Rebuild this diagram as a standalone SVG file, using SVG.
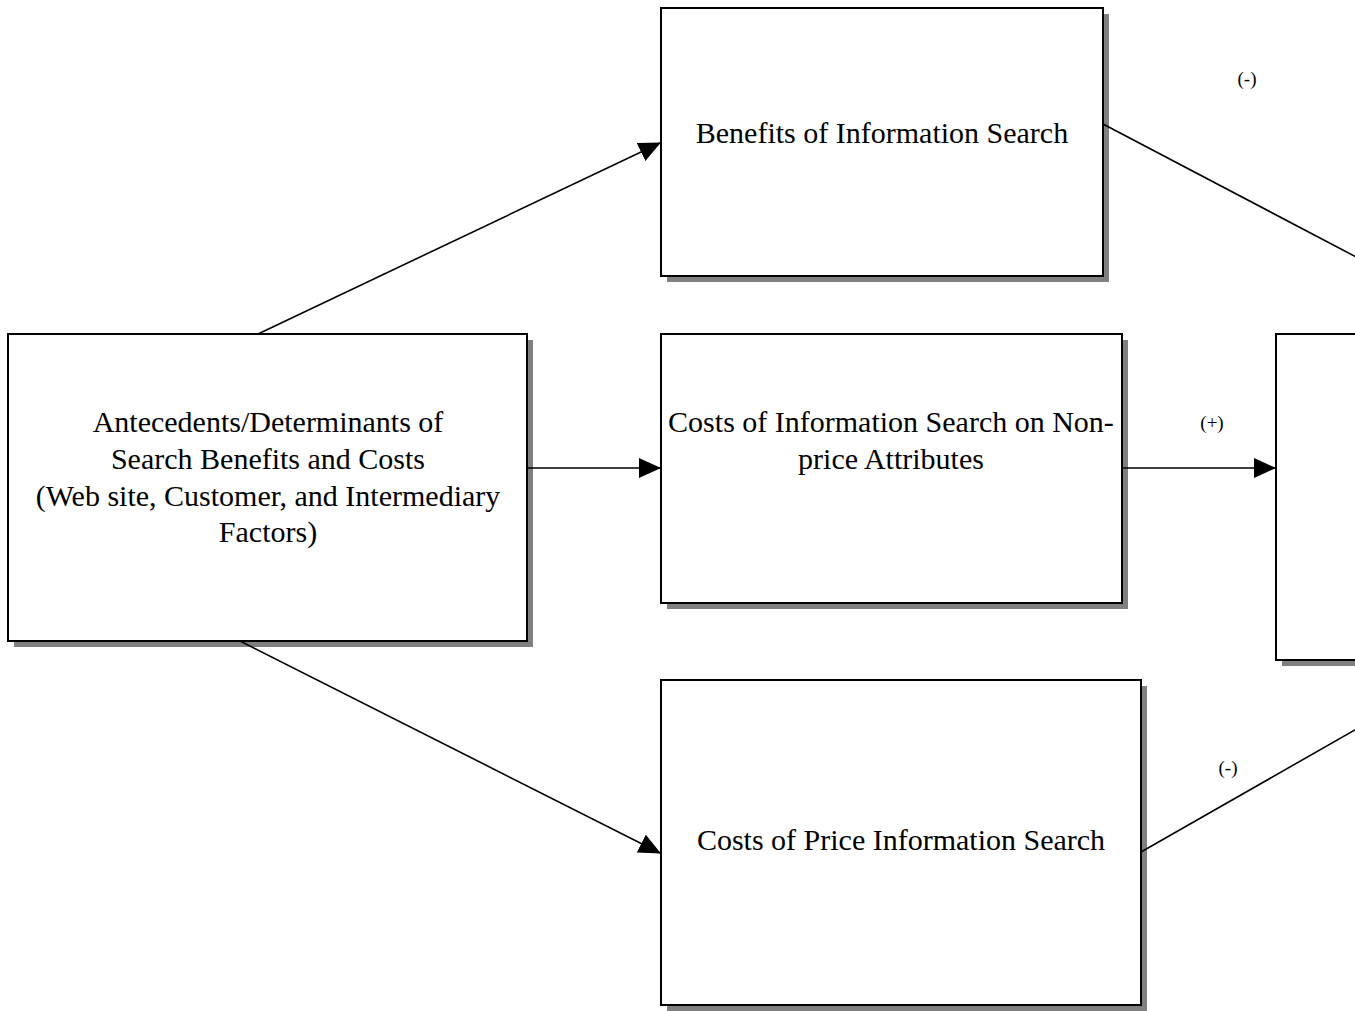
<svg xmlns="http://www.w3.org/2000/svg" width="1355" height="1011" viewBox="0 0 1355 1011">
<style>
.sh{fill:#808080;stroke:none}
.bx{fill:#fff;stroke:#000;stroke-width:2}
.t{font-family:"Liberation Serif","Times New Roman",serif;font-size:30px;fill:#000;text-anchor:middle}
.s{font-family:"Liberation Serif","Times New Roman",serif;font-size:19px;fill:#000;text-anchor:middle}
.ln{stroke:#000;stroke-width:1.6;fill:none}
</style>
<defs>
<marker id="ah" markerWidth="22" markerHeight="20" refX="21" refY="10" orient="auto" markerUnits="userSpaceOnUse">
<path d="M0,0 L22,10 L0,20 Z" fill="#000"/>
</marker>
</defs>
<rect width="1355" height="1011" fill="#fff"/>
<g id="benefits">
<rect class="sh" x="667" y="14" width="442" height="268"/>
<rect class="bx" x="661" y="8" width="442" height="268"/>
<text class="t" x="882" y="143">Benefits of Information Search</text>
</g>
<g id="antecedents">
<rect class="sh" x="14" y="340" width="519" height="307"/>
<rect class="bx" x="8" y="334" width="519" height="307"/>
<text class="t" x="268" y="432">Antecedents/Determinants of</text>
<text class="t" x="268" y="469">Search Benefits and Costs</text>
<text class="t" x="268" y="506">(Web site, Customer, and Intermediary</text>
<text class="t" x="268" y="542">Factors)</text>
</g>
<g id="nonprice">
<rect class="sh" x="667" y="340" width="461" height="269"/>
<rect class="bx" x="661" y="334" width="461" height="269"/>
<text class="t" x="891" y="432">Costs of Information Search on Non-</text>
<text class="t" x="891" y="469">price Attributes</text>
</g>
<g id="outcome">
<rect class="sh" x="1282" y="340" width="80" height="326"/>
<rect class="bx" x="1276" y="334" width="90" height="326"/>
</g>
<g id="price">
<rect class="sh" x="667" y="686" width="480" height="325"/>
<rect class="bx" x="661" y="680" width="480" height="325"/>
<text class="t" x="901" y="850">Costs of Price Information Search</text>
</g>
<g id="connectors">
<line class="ln" x1="258" y1="334" x2="660" y2="143" marker-end="url(#ah)"/>
<line class="ln" x1="527" y1="468" x2="660" y2="468" marker-end="url(#ah)"/>
<line class="ln" x1="240" y1="641" x2="660" y2="853" marker-end="url(#ah)"/>
<line class="ln" x1="1103" y1="124" x2="1360" y2="259"/>
<line class="ln" x1="1122" y1="468" x2="1275" y2="468" marker-end="url(#ah)"/>
<line class="ln" x1="1141" y1="852" x2="1360" y2="727"/>
<text class="s" x="1247" y="85">(-)</text>
<text class="s" x="1212" y="429">(+)</text>
<text class="s" x="1228" y="774">(-)</text>
</g>
</svg>
